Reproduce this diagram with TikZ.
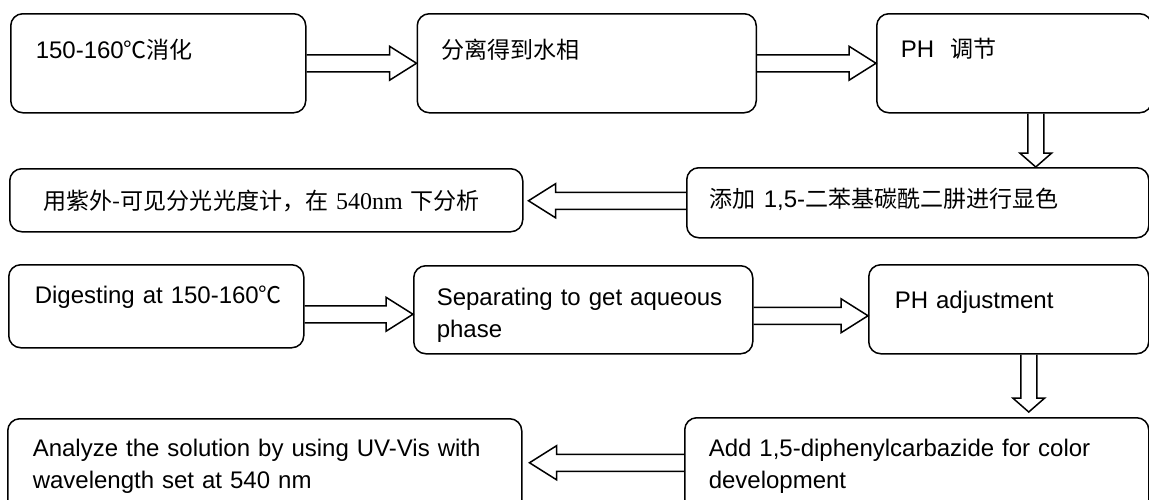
\documentclass[tikz,border=0pt]{standalone}
\usepackage{fontspec}
\setmainfont{Liberation Sans}
\newfontfamily\cjk[Scale=0.96]{Noto Sans CJK SC}
\newfontfamily\songnum{Liberation Serif}
\usetikzlibrary{calc}
\usetikzlibrary{positioning}
\tikzstyle{stage} = [rectangle, rounded corners=12pt, draw=black, line width=1.5pt, anchor=north west, align=left, inner ysep=0pt, font=\fontsize{24}{32}\selectfont]
\tikzstyle{fatarrow} = [draw=black, line width=1.5pt, line join=miter, to path={let \p1=(\tikztostart), \p2=(\tikztotarget), \p3=($(\x2,\y1)!27pt!(\p1)$) in (\x1,\y1+8.5pt) -- (\x3,\y1+8.5pt) -- (\x3,\y1+17pt) -- (\x2,\y1) -- (\x3,\y1-17pt) -- (\x3,\y1-8.5pt) -- (\x1,\y1-8.5pt)}]
\tikzstyle{fatvert} = [draw=black, line width=1.5pt, line join=miter, to path={let \p1=(\tikztostart), \p2=(\tikztotarget), \p3=($(\x1,\y2)!14pt!(\p1)$) in (\x1+8pt,\y1) -- (\x1+8pt,\y3) -- (\x1+16pt,\y3) -- (\x1,\y2) -- (\x1-16pt,\y3) -- (\x1-8pt,\y3) -- (\x1-8pt,\y1)}]

\begin{document}
\begin{tikzpicture}[x=1pt, y=-1pt]
        \clip (0,0) rectangle (1149,499);
        % Chinese flow
        \node (b1) [stage, inner xsep=25pt, text width=245pt, text height=45pt, text depth=54pt] at (10,13) {150-160{\cjk ℃消化}};
        \node (b2) [stage, right=110pt of b1, inner xsep=24pt, text width=291pt, text height=45pt, text depth=54pt] {{\cjk 分离得到水相}};
        \node (b3) [stage, right=119pt of b2, inner xsep=24pt, text width=227pt, text height=44pt, text depth=55pt] {PH\ \ {\cjk 调节}};
        \node (b4) [stage, inner xsep=34pt, text width=445pt, text height=41pt, text depth=22pt] at (9,168) {\mbox{{\cjk 用紫外-可见分光光度计，在} {\songnum 540nm} {\cjk 下分析}}};
        \node (b5) [stage, inner xsep=23pt, text width=416pt, text height=40pt, text depth=30pt] at (686,167) {{\cjk 添加} 1,5-{\cjk 二苯基碳酰二肼进行显色}};

        % English flow
        \node (b6) [stage, inner xsep=26pt, text width=243pt, text height=39pt, text depth=44pt] at (8,264) {\mbox{Digesting at 150-160{\cjk ℃}}};
        \node (b7) [stage, inner xsep=23pt, text width=293pt, text height=40pt, text depth=48pt] at (413,265) {\makebox[\linewidth][s]{Separating to get aqueous}\\phase};
        \node (b8) [stage, inner xsep=26pt, text width=228pt, text height=44pt, text depth=45pt] at (868,264) {PH adjustment};
        \node (b9) [stage, inner xsep=25pt, text width=464pt, text height=38pt, text depth=56pt] at (7,418) {\makebox[\linewidth][s]{Analyze the solution by using UV-Vis with}\\wavelength set at 540 nm};
        \node (b10) [stage, inner xsep=24pt, text width=416pt, text height=39pt, text depth=57pt] at (684,417) {Add 1,5-diphenylcarbazide for color\\development};

        \draw [fatarrow] (b1.east) to (b2.west);
        \draw [fatarrow] (b2.east) to (b3.west);
        \draw [fatvert] ([xshift=21.5pt]b3.south) to (b5.north);
        \draw [fatarrow] ([yshift=2pt]b5.west) to ([xshift=5pt]b4.east);
        \draw [fatarrow] ([yshift=-8pt]b6.east) to (b7.west);
        \draw [fatarrow] ([yshift=-6pt]b7.east) to (b8.west);
        \draw [fatvert] ([xshift=20pt]b8.south) to ([yshift=5pt]b10.north);
        \draw [fatarrow] ([yshift=3pt]b10.west) to ([xshift=7pt]b9.east);
    \end{tikzpicture}
\end{document}
